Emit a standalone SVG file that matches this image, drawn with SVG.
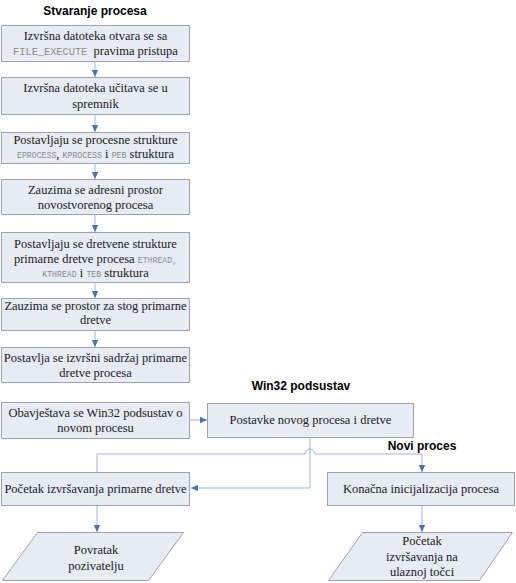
<svg xmlns="http://www.w3.org/2000/svg" width="516" height="583" viewBox="0 0 516 583">
<defs>
<marker id="ah" markerWidth="8" markerHeight="8" refX="7" refY="4" orient="auto" markerUnits="userSpaceOnUse">
<path d="M0,0.8 L7,4 L0,7.2 z" fill="#4a74b0"/>
</marker>
</defs>
<style>
.box{fill:#e7ebf4;stroke:#9da3ad;stroke-width:1}
.t{font-family:"Liberation Serif","Times New Roman",serif;font-size:12.5px;fill:#1a1a1a;text-anchor:middle}
.m1{font-family:"Liberation Mono","Courier New",monospace;font-size:10.3px;fill:#8a8a8a}
.m{font-family:"Liberation Mono","Courier New",monospace;font-size:8.2px;fill:#8a8a8a}
.h{font-family:"Liberation Sans",Arial,sans-serif;font-size:12px;font-weight:bold;fill:#000;text-anchor:middle}
.ca{fill:none;stroke:#9bb7dc;stroke-width:1;marker-end:url(#ah)}
</style>
<rect width="516" height="583" fill="#ffffff"/>
<text class="h" x="95" y="15">Stvaranje procesa</text>
<text class="h" x="301" y="390">Win32 podsustav</text>
<text class="h" x="422" y="450">Novi proces</text>

<g id="connectors">
<line class="ca" x1="95" y1="62" x2="95" y2="77"/>
<line class="ca" x1="95" y1="115" x2="95" y2="132"/>
<line class="ca" x1="95" y1="163" x2="95" y2="179"/>
<line class="ca" x1="95" y1="214" x2="95" y2="232"/>
<line class="ca" x1="95" y1="282" x2="95" y2="298"/>
<line class="ca" x1="95" y1="331" x2="95" y2="347"/>
<line class="ca" x1="190" y1="420" x2="207" y2="420"/>
<path class="ca" d="M310,437 L310,488 L191,488"/>
<path class="ca" d="M97,472 L97,454 L305,454 A5,5 0 0 1 315,454 L422,454 L422,472"/>
<line class="ca" x1="97" y1="505" x2="97" y2="532"/>
<line class="ca" x1="422" y1="505" x2="422" y2="532"/>
</g>

<g id="n1"><rect class="box" x="1.5" y="25.5" width="188" height="36"/>
<text class="t" x="95.5" y="40">Izvršna datoteka otvara se sa</text>
<text class="t" x="95.5" y="55"><tspan class="m1">FILE_EXECUTE</tspan>&#160; pravima pristupa</text></g>

<g id="n2"><rect class="box" x="1.5" y="77.5" width="188" height="37"/>
<text class="t" x="95.5" y="92">Izvršna datoteka učitava se u</text>
<text class="t" x="95.5" y="108">spremnik</text></g>

<g id="n3"><rect class="box" x="1.5" y="132.5" width="188" height="31"/>
<text class="t" x="95.5" y="144">Postavljaju se procesne strukture</text>
<text class="t" x="95.5" y="158"><tspan class="m">EPROCESS</tspan>, <tspan class="m">KPROCESS</tspan> i <tspan class="m">PEB</tspan> struktura</text></g>

<g id="n4"><rect class="box" x="1.5" y="179.5" width="188" height="35"/>
<text class="t" x="95.5" y="194">Zauzima se adresni prostor</text>
<text class="t" x="95.5" y="209">novostvorenog procesa</text></g>

<g id="n5"><rect class="box" x="1.5" y="232.5" width="188" height="50"/>
<text class="t" x="95.5" y="248">Postavljaju se dretvene strukture</text>
<text class="t" x="95.5" y="263">primarne dretve procesa <tspan class="m">ETHREAD,</tspan></text>
<text class="t" x="95.5" y="277"><tspan class="m">KTHREAD</tspan> i <tspan class="m">TEB</tspan> struktura</text></g>

<g id="n6"><rect class="box" x="1.5" y="298.5" width="188" height="32"/>
<text class="t" x="95.5" y="310">Zauzima se prostor za stog primarne</text>
<text class="t" x="95.5" y="324">dretve</text></g>

<g id="n7"><rect class="box" x="1.5" y="347.5" width="188" height="35"/>
<text class="t" x="95.5" y="362">Postavlja se izvršni sadržaj primarne</text>
<text class="t" x="95.5" y="377">dretve procesa</text></g>

<g id="n8"><rect class="box" x="1.5" y="402.5" width="188" height="36"/>
<text class="t" x="95.5" y="417">Obavještava se Win32 podsustav o</text>
<text class="t" x="95.5" y="432">novom procesu</text></g>

<g id="n9"><rect class="box" x="207.5" y="403.5" width="206" height="34"/>
<text class="t" x="310.5" y="424">Postavke novog procesa i dretve</text></g>

<g id="n10"><rect class="box" x="1.5" y="472.5" width="188" height="33"/>
<text class="t" x="95.5" y="493">Početak izvršavanja primarne dretve</text></g>

<g id="n11"><rect class="box" x="327.5" y="472.5" width="187" height="33"/>
<text class="t" x="421" y="493">Konačna inicijalizacija procesa</text></g>

<g id="n12"><polygon class="box" points="37.5,532.5 183.5,532.5 148.5,580.5 2.5,580.5"/>
<text class="t" x="96" y="554">Povratak</text>
<text class="t" x="96" y="570">pozivatelju</text></g>

<g id="n13"><polygon class="box" points="362.5,532.5 512.5,532.5 479.5,580.5 328.5,580.5"/>
<text class="t" x="422" y="545">Početak</text>
<text class="t" x="422" y="561">izvršavanja na</text>
<text class="t" x="422" y="576">ulaznoj točci</text></g>
</svg>
